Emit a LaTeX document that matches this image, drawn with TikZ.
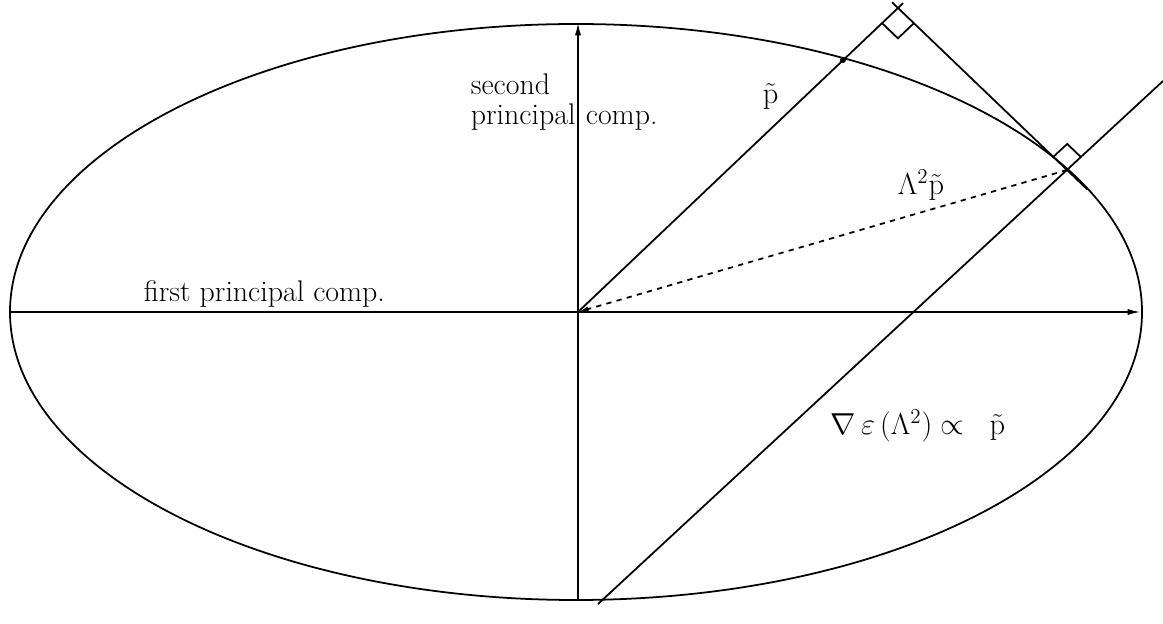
\documentclass[tikz,border=0pt]{standalone}
\usetikzlibrary{arrows.meta,calc}
\begin{document}
\begin{tikzpicture}[x=0.02cm,y=-0.02cm,line width=1pt,
  font=\fontsize{17}{20}\selectfont,
  axis/.style={line width=0.8pt,-{Latex[length=7pt,width=3.5pt]}},
  lbl/.style={inner sep=0pt,anchor=base west}]
  \useasboundingbox (0,0) rectangle (1163,624);
  \coordinate (O) at (578,312);
  \coordinate (A) at (898,8);
  \coordinate (T) at (1067,170);
  \coordinate (P) at (843,60);
  \coordinate (G1) at (598,604);
  \coordinate (G2) at (1163,81);
  \draw (576,312) ellipse (566 and 288);
  \draw[axis] (9,312) -- (1140,312);
  \draw[axis] (578,599) -- (578,23);
  % p line and tangent line
  \draw (O) -- ($(O)!1.016!(A)$);
  \draw ($(A)!-0.035!(T)$) -- ($(T)!-0.12!(A)$);
  \draw (G1) -- (G2);
  \draw[dashed,-{Latex[length=6pt,width=3pt]}] (T) -- (O);
  % right angles
  \draw ($(A)!0.44cm!(O)$) -- ($($(A)!0.44cm!(O)$)+($(A)!0.44cm!(T)$)-(A)$) -- ($(A)!0.44cm!(T)$);
  \draw ($(T)!0.38cm!(A)$) -- ($($(T)!0.38cm!(A)$)+($(T)!0.38cm!(G2)$)-(T)$) -- ($(T)!0.38cm!(G2)$);
  \fill (P) circle (3);
  % labels
  \node[lbl] at (470,95) {second};
  \node[lbl] at (470,125) {principal};
  \node[lbl] at (585,125) {comp.};
  \node[lbl] at (143,302) {first principal comp.};
  \node[lbl] at (762,104) {$\tilde{\mathrm{p}}$};
  \node[lbl] at (897,195) {$\Lambda^{2}\tilde{\mathrm{p}}$};
  \node[lbl] at (830,435) {$\nabla\,\varepsilon\,(\Lambda^2)\propto\;\;\tilde{\mathrm{p}}$};
\end{tikzpicture}
\end{document}
